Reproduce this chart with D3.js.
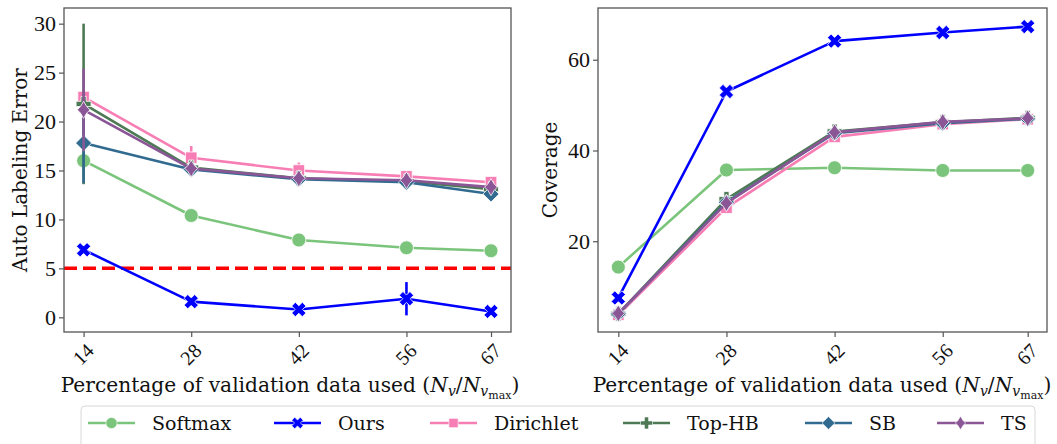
<!DOCTYPE html>
<html>
<head>
<meta charset="utf-8">
<script src="https://cdn.jsdelivr.net/npm/d3@7"></script>
<style>
  html, body { margin: 0; padding: 0; background: #fff; }
  svg { display: block; }
  text { font-family: "DejaVu Serif", "Liberation Serif", serif; fill: #111; }
  .tick text { font-family: "Liberation Serif", serif; }
</style>
</head>
<body>
<svg id="chart" width="1057" height="444"></svg>
<script>
// x positions: percentage of validation data used
const pct = [14, 28, 42, 56, 67];
const methods = ["Softmax", "Ours", "Dirichlet", "Top-HB", "SB", "TS"];
const colors = ["#7bc47b", "#0000ff", "#f77eb5", "#4d7a55", "#316b8f", "#8a5696"];

// auto labeling error (%) — mean and error-bar half-width
const errSoftmax   = [16.0, 10.4, 7.9, 7.1, 6.8];
const errOurs      = [6.9, 1.6, 0.8, 1.9, 0.6];
const errDirichlet = [22.5, 16.3, 15.0, 14.4, 13.8];
const errTopHB     = [21.8, 15.3, 14.2, 13.9, 13.1];
const errSB        = [17.8, 15.1, 14.1, 13.8, 12.6];
const errTS        = [21.2, 15.2, 14.2, 14.0, 13.3];

const errSoftmaxSd   = [0.2, 0.2, 0.2, 0.2, 0.2];
const errOursSd      = [0.3, 0.4, 0.3, 1.7, 0.2];
const errDirichletSd = [0.6, 1.2, 0.8, 0.4, 0.3];
const errTopHBSd     = [8.2, 0.3, 0.3, 0.2, 0.3];
const errSBSd        = [4.1, 0.2, 0.2, 0.2, 0.2];
const errTSSd        = [4.2, 0.3, 0.3, 0.2, 0.2];

// coverage (%)
const covSoftmax   = [14.3, 35.7, 36.2, 35.6, 35.6];
const covOurs      = [7.5, 53.0, 64.1, 66.0, 67.3];
const covDirichlet = [3.8, 27.4, 43.0, 45.8, 46.9];
const covTopHB     = [4.0, 29.3, 44.2, 46.2, 47.2];
const covSB        = [4.0, 28.6, 43.8, 46.0, 47.0];
const covTS        = [4.1, 28.4, 44.0, 46.3, 47.1];

const errTicks = [0, 5, 10, 15, 20, 25, 30];
const covTicks = [20, 40, 60];
const errThreshold = 5;

const errSeries = [errSoftmax, errOurs, errDirichlet, errTopHB, errSB, errTS];
const errSds = [errSoftmaxSd, errOursSd, errDirichletSd, errTopHBSd, errSBSd, errTSSd];
const covSeries = [covSoftmax, covOurs, covDirichlet, covTopHB, covSB, covTS];

const svg = d3.select("#chart");

// ---- marker shapes (centered at 0,0, scaled by k) ----
function poly(pts) { return "M" + pts.map(p => p.join(",")).join("L") + "Z"; }
const markers = {
  circle: k => { const r = 7 * k; return `M${-r},0A${r},${r} 0 1,0 ${r},0A${r},${r} 0 1,0 ${-r},0Z`; },
  x: k => {
    const a = 7.5 * k, w = 2.6 * k;
    const base = [[-w, -a], [w, -a], [w, -w], [a, -w], [a, w], [w, w], [w, a], [-w, a], [-w, w], [-a, w], [-a, -w], [-w, -w]];
    const c = Math.SQRT1_2;
    return poly(base.map(([x, y]) => [(x - y) * c, (x + y) * c]));
  },
  square: k => { const s = 5.8 * k; return poly([[-s, -s], [s, -s], [s, s], [-s, s]]); },
  plus: k => {
    const a = 7.5 * k, w = 2.6 * k;
    return poly([[-w, -a], [w, -a], [w, -w], [a, -w], [a, w], [w, w], [w, a], [-w, a], [-w, w], [-a, w], [-a, -w], [-w, -w]]);
  },
  diamond: k => { const s = 8 * k; return poly([[0, -s], [s, 0], [0, s], [-s, 0]]); },
  star4: k => {
    const o = 8.5 * k, i = 3.2 * k;
    return poly([[0, -o], [i, -i], [o * 0.75, 0], [i, i], [0, o], [-i, i], [-o * 0.75, 0], [-i, -i]]);
  }
};
const markerOf = ["circle", "x", "square", "plus", "diamond", "star4"];

function drawPanel(opts) {
  const { left, right, top, bottom, xDomain, yDomain, ticks, series, sds, ylabel, ylabelX, xlabelX, threshold } = opts;
  const x = d3.scaleLinear().domain(xDomain).range([left, right]);
  const y = d3.scaleLinear().domain(yDomain).range([bottom, top]);
  const g = svg.append("g");

  const clipId = "clip" + Math.round(left);
  g.append("clipPath").attr("id", clipId).append("rect")
    .attr("x", left).attr("y", top).attr("width", right - left).attr("height", bottom - top);

  const plot = g.append("g").attr("clip-path", `url(#${clipId})`);

  if (threshold !== undefined) {
    plot.append("line")
      .attr("x1", left).attr("x2", right)
      .attr("y1", y(threshold)).attr("y2", y(threshold))
      .attr("stroke", "#ff0000").attr("stroke-width", 3.5)
      .attr("stroke-dasharray", "13,6");
  }

  const line = d3.line().x((d, i) => x(pct[i])).y(d => y(d));

  series.forEach((vals, si) => {
    const sg = plot.append("g");
    sg.append("path").datum(vals)
      .attr("d", line).attr("fill", "none")
      .attr("stroke", colors[si]).attr("stroke-width", 2.6)
      .attr("stroke-linejoin", "round");
    if (sds) {
      sg.selectAll("line.eb").data(vals).join("line")
        .attr("x1", (d, i) => x(pct[i])).attr("x2", (d, i) => x(pct[i]))
        .attr("y1", (d, i) => y(d - sds[si][i])).attr("y2", (d, i) => y(d + sds[si][i]))
        .attr("stroke", colors[si]).attr("stroke-width", 2.6);
    }
    sg.selectAll("path.mk").data(vals).join("path")
      .attr("d", markers[markerOf[si]](1))
      .attr("transform", (d, i) => `translate(${x(pct[i])},${y(d)})`)
      .attr("fill", colors[si]).attr("stroke", "#fff").attr("stroke-width", 0.8);
  });

  // frame
  g.append("rect")
    .attr("x", left).attr("y", top).attr("width", right - left).attr("height", bottom - top)
    .attr("fill", "none").attr("stroke", "#555").attr("stroke-width", 1.3);

  // y axis
  const ya = g.append("g").attr("transform", `translate(${left},0)`)
    .call(d3.axisLeft(y).tickValues(ticks).tickSize(5).tickPadding(3));
  ya.select(".domain").remove();
  ya.selectAll("line").attr("stroke", "#555").attr("stroke-width", 1.2);
  ya.selectAll("text").attr("font-size", 22).attr("font-family", "Liberation Serif").attr("fill", "#111");

  // x axis
  const xa = g.append("g").attr("transform", `translate(0,${bottom})`)
    .call(d3.axisBottom(x).tickValues(pct).tickSize(5).tickFormat(d3.format("d")));
  xa.select(".domain").remove();
  xa.selectAll("line").attr("stroke", "#555").attr("stroke-width", 1.2);
  xa.selectAll("text")
    .attr("font-size", 20).attr("font-family", "Liberation Serif").attr("fill", "#111")
    .attr("text-anchor", "end").attr("dy", null).attr("y", 0)
    .attr("transform", "translate(11,20) rotate(-45)");

  // y label
  g.append("text")
    .attr("transform", `translate(${ylabelX},${(top + bottom) / 2}) rotate(-90)`)
    .attr("text-anchor", "middle").attr("font-size", 20)
    .text(ylabel);

  // x label with math
  const xl = g.append("text")
    .attr("x", xlabelX).attr("y", 392)
    .attr("text-anchor", "middle").attr("font-size", 20.2);
  xl.append("tspan").text("Percentage of validation data used ");
  xl.append("tspan").text("(");
  xl.append("tspan").attr("font-style", "italic").text("N");
  xl.append("tspan").attr("font-style", "italic").attr("font-size", 14).attr("dy", 4).text("v");
  xl.append("tspan").attr("dy", -4).text("/");
  xl.append("tspan").attr("font-style", "italic").text("N");
  xl.append("tspan").attr("font-style", "italic").attr("font-size", 14).attr("dy", 4).text("v");
  xl.append("tspan").attr("font-size", 11).attr("dy", 3).text("max");
  xl.append("tspan").attr("dy", -7).text(")");
}

drawPanel({
  left: 64, right: 511, top: 8, bottom: 332,
  xDomain: [11.45, 69.6], yDomain: [-1.5, 31.6],
  ticks: errTicks, series: errSeries, sds: errSds,
  ylabel: "Auto Labeling Error", ylabelX: 27, xlabelX: 290, threshold: errThreshold
});

drawPanel({
  left: 598, right: 1047, top: 8, bottom: 332,
  xDomain: [11.37, 69.5], yDomain: [0, 71.4],
  ticks: covTicks, series: covSeries, sds: null,
  ylabel: "Coverage", ylabelX: 557, xlabelX: 822
});

// ---- legend ----
const lg = svg.append("g");
lg.append("rect")
  .attr("x", 81).attr("y", 406).attr("width", 954).attr("height", 50)
  .attr("rx", 4).attr("fill", "#fff").attr("stroke", "#d8d8d8").attr("stroke-width", 1);
const legendX = [88, 274, 430, 623, 805, 937];
const ly = 423;
methods.forEach((m, i) => {
  const x0 = legendX[i];
  lg.append("line").attr("x1", x0).attr("x2", x0 + 47).attr("y1", ly).attr("y2", ly)
    .attr("stroke", colors[i]).attr("stroke-width", 2.6);
  lg.append("path").attr("d", markers[markerOf[i]](0.8))
    .attr("transform", `translate(${x0 + 23.5},${ly})`)
    .attr("fill", colors[i]).attr("stroke", "#fff").attr("stroke-width", 0.6);
  lg.append("text").attr("x", x0 + 64).attr("y", ly + 7)
    .attr("font-size", 19).text(m);
});
</script>
</body>
</html>
